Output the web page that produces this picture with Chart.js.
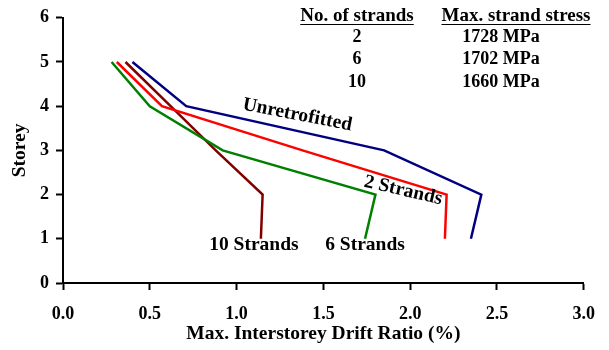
<!DOCTYPE html>
<html>
<head>
<meta charset="utf-8">
<script src="https://cdn.jsdelivr.net/npm/chart.js@4"></script>
<style>
    html, body { margin: 0; padding: 0; background: #ffffff; }
    #wrap { width: 609px; height: 350px; }
</style>
</head>
<body>
<div id="wrap"><canvas id="driftChart" width="609" height="350"></canvas></div>
<script>

// storey levels (y) and drift ratio (%) per case
const storeys = [1, 2, 3, 4, 5];

const unretrofitted = [2.35, 2.41, 1.85, 0.71, 0.40];
const strands2 = [2.20, 2.21, 1.38, 0.57, 0.31];
const strands6 = [1.74, 1.80, 0.92, 0.50, 0.28];
const strands10 = [1.14, 1.15, 0.88, 0.62, 0.36];

const xTicks = [0, 0.5, 1, 1.5, 2, 2.5, 3];
const yTicks = [0, 1, 2, 3, 4, 5, 6];

const tableStrands = ["2", "6", "10"];
const tableStress = ["1728 MPa", "1702 MPa", "1660 MPa"];

const fontFamily = "'Liberation Serif', 'Times New Roman', serif";

function toPoints(values) {
    return values.map((v, i) => ({ x: v, y: storeys[i] }));
}

function makeSet(label, values, color) {
    return {
        label: label,
        data: toPoints(values),
        showLine: true,
        borderColor: color,
        backgroundColor: color,
        borderWidth: 2.5,
        pointRadius: 0,
        tension: 0
    };
}

// labels and the small table drawn on top
const notesPlugin = {
    id: "notes",
    afterDraw(chart) {
        const ctx = chart.ctx;
        const xs = chart.scales.x;
        const ys = chart.scales.y;

        ctx.save();
        ctx.fillStyle = "#000000";
        ctx.font = "bold 19.5px " + fontFamily;
        ctx.textAlign = "center";
        ctx.textBaseline = "middle";

        function rotated(text, xv, yv, deg) {
            ctx.save();
            ctx.translate(xs.getPixelForValue(xv), ys.getPixelForValue(yv));
            ctx.rotate(deg * Math.PI / 180);
            ctx.fillText(text, 0, 0);
            ctx.restore();
        }

        rotated("Unretrofitted", 1.35, 3.80, 11);
        rotated("2 Strands", 1.96, 2.09, 13);
        rotated("10 Strands", 1.10, 0.86, 0);
        rotated("6 Strands", 1.74, 0.86, 0);

        // table
        const col1 = 357;
        const col2 = 516;

        ctx.font = "bold 19px " + fontFamily;
        ctx.fillText("No. of strands", col1, 16);
        ctx.fillText("Max. strand stress", col2, 16);

        ctx.strokeStyle = "#000000";
        ctx.lineWidth = 1.2;
        let w1 = ctx.measureText("No. of strands").width;
        let w2 = ctx.measureText("Max. strand stress").width;
        ctx.beginPath();
        ctx.moveTo(col1 - w1 / 2, 24.5);
        ctx.lineTo(col1 + w1 / 2, 24.5);
        ctx.moveTo(col2 - w2 / 2, 24.5);
        ctx.lineTo(col2 + w2 / 2, 24.5);
        ctx.stroke();

        const rowY = [37, 59.5, 82];
        ctx.font = "bold 18px " + fontFamily;
        tableStrands.forEach((s, i) => {
            ctx.fillText(s, col1, rowY[i]);
            ctx.fillText(tableStress[i], 501, rowY[i]);
        });

        ctx.restore();
    }
};

new Chart(document.getElementById("driftChart"), {

    type: "scatter",

    data: {
        datasets: [
            makeSet("Unretrofitted", unretrofitted, "#000080"),
            makeSet("6 Strands", strands6, "#008000"),
            makeSet("2 Strands", strands2, "#ff0000"),
            makeSet("10 Strands", strands10, "#800000")
        ]
    },

    options: {

        responsive: false,
        animation: false,

        layout: {
            padding: { left: 0, right: 23, top: 16, bottom: 0 }
        },

        plugins: {
            legend: { display: false },
            tooltip: { enabled: false }
        },

        scales: {

            x: {
                type: "linear",
                min: 0,
                max: 3,
                afterBuildTicks(scale) {
                    scale.ticks = xTicks.map(v => ({ value: v }));
                },
                afterFit(scale) {
                    scale.height = 67;
                },
                border: { display: true, color: "#000000", width: 2 },
                grid: {
                    drawOnChartArea: false,
                    drawTicks: true,
                    tickLength: 7,
                    tickWidth: 2,
                    tickColor: "#000000"
                },
                ticks: {
                    color: "#000000",
                    padding: 14,
                    maxRotation: 0,
                    font: { family: fontFamily, size: 18, weight: "bold" },
                    callback: v => Number(v).toFixed(1)
                },
                title: {
                    display: true,
                    text: "Max. Interstorey Drift Ratio (%)",
                    color: "#000000",
                    font: { family: fontFamily, size: 19.5, weight: "bold" },
                    padding: { top: 0, bottom: 4 }
                }
            },

            y: {
                type: "linear",
                min: 0,
                max: 6,
                afterBuildTicks(scale) {
                    scale.ticks = yTicks.map(v => ({ value: v }));
                },
                afterFit(scale) {
                    scale.width = 63;
                },
                border: { display: true, color: "#000000", width: 2 },
                grid: {
                    drawOnChartArea: false,
                    drawTicks: true,
                    tickLength: 7,
                    tickWidth: 2,
                    tickColor: "#000000"
                },
                ticks: {
                    color: "#000000",
                    padding: 7,
                    font: { family: fontFamily, size: 18, weight: "bold" }
                },
                title: {
                    display: true,
                    text: "Storey",
                    color: "#000000",
                    font: { family: fontFamily, size: 19.5, weight: "bold" },
                    padding: { top: 8, bottom: 0 }
                }
            }

        }

    },

    plugins: [notesPlugin]

});

</script>
</body>
</html>
